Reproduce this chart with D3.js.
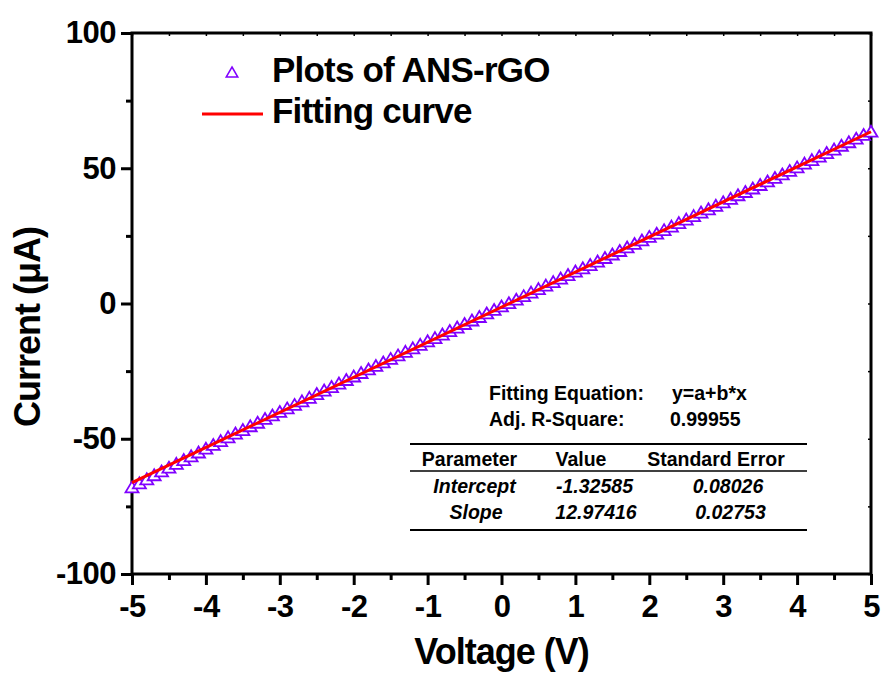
<!DOCTYPE html>
<html>
<head>
<meta charset="utf-8">
<script src="https://cdn.jsdelivr.net/npm/d3@7"></script>
<style>
  body { margin: 0; background: #fff; }
  svg { display: block; }
  svg text { font-family: "Liberation Sans", Arial, sans-serif; font-weight: bold; }
</style>
</head>
<body>
<script>
// voltage steps of the I-V sweep (V)
var voltage = [
  -5.0, -4.9, -4.8, -4.7, -4.6, -4.5, -4.4, -4.3, -4.2, -4.1,
  -4.0, -3.9, -3.8, -3.7, -3.6, -3.5, -3.4, -3.3, -3.2, -3.1,
  -3.0, -2.9, -2.8, -2.7, -2.6, -2.5, -2.4, -2.3, -2.2, -2.1,
  -2.0, -1.9, -1.8, -1.7, -1.6, -1.5, -1.4, -1.3, -1.2, -1.1,
  -1.0, -0.9, -0.8, -0.7, -0.6, -0.5, -0.4, -0.3, -0.2, -0.1,
  0.0, 0.1, 0.2, 0.3, 0.4, 0.5, 0.6, 0.7, 0.8, 0.9,
  1.0, 1.1, 1.2, 1.3, 1.4, 1.5, 1.6, 1.7, 1.8, 1.9,
  2.0, 2.1, 2.2, 2.3, 2.4, 2.5, 2.6, 2.7, 2.8, 2.9,
  3.0, 3.1, 3.2, 3.3, 3.4, 3.5, 3.6, 3.7, 3.8, 3.9,
  4.0, 4.1, 4.2, 4.3, 4.4, 4.5, 4.6, 4.7, 4.8, 4.9, 5.0
];
var current = [
  -67.8, -66.3, -64.8, -63.3, -61.9, -60.5, -59.1, -57.7, -56.3, -54.9,
  -53.5, -52.1, -50.7, -49.3, -47.9, -46.6, -45.2, -43.9, -42.5, -41.2,
  -39.9, -38.6, -37.3, -36.0, -34.7, -33.3, -32.0, -30.7, -29.4, -28.1,
  -26.8, -25.5, -24.2, -22.9, -21.6, -20.3, -19.0, -17.7, -16.4, -15.1,
  -13.8, -12.6, -11.3, -10.0, -8.7, -7.4, -6.1, -4.8, -3.5, -2.2,
  -0.9, 0.3, 1.6, 2.9, 4.2, 5.5, 6.8, 8.1, 9.4, 10.7,
  12.0, 13.2, 14.4, 15.7, 17.0, 18.3, 19.6, 20.9, 22.2, 23.5,
  24.8, 26.0, 27.3, 28.6, 29.9, 31.2, 32.5, 33.8, 35.0, 36.3,
  37.6, 38.9, 40.2, 41.4, 42.7, 44.0, 45.3, 46.6, 47.9, 49.2,
  50.5, 51.9, 53.2, 54.5, 55.8, 57.1, 58.5, 59.8, 61.1, 62.5, 63.7
];
// end points of the linear fitting curve
var fitVoltage = [-5, 5];
var fitCurrent = [-66.2, 63.5];

// tick values
var xMajor = [-5, -4, -3, -2, -1, 0, 1, 2, 3, 4, 5];
var xMinor = [-4.5, -3.5, -2.5, -1.5, -0.5, 0.5, 1.5, 2.5, 3.5, 4.5];
var yMajor = [-100, -50, 0, 50, 100];
var yMinor = [-75, -25, 25, 75];

// legend + fit table text
var legendLabels = ["Plots of ANS-rGO", "Fitting curve"];
var tableHeader = ["Parameter", "Value", "Standard Error"];
var tableRows = [
  ["Intercept", "-1.32585", "0.08026"],
  ["Slope", "12.97416", "0.02753"]
];

var W = 883, H = 673;
var margin = { top: 33, right: 12, bottom: 99, left: 132 };
var width = W - margin.left - margin.right;
var height = H - margin.top - margin.bottom;

var svg = d3.select("body").append("svg")
  .attr("width", W)
  .attr("height", H);

var g = svg.append("g")
  .attr("transform", "translate(" + margin.left + "," + margin.top + ")");

var x = d3.scaleLinear().domain([-5, 5]).range([0, width]);
var y = d3.scaleLinear().domain([-100, 100]).range([height, 0]);

var purple = "#8000ff";
var red = "#ff0000";

//axes, major + minor ticks
function styleAxis(sel) {
  sel.select(".domain").remove();
  sel.attr("font-family", null).attr("font-size", null);
  sel.selectAll(".tick line").attr("stroke", "#000").attr("stroke-width", 3);
  sel.selectAll(".tick text")
    .attr("fill", "#000")
    .style("font-size", "31px")
    .style("letter-spacing", "-0.5px");
}

g.append("g")
  .attr("transform", "translate(0," + height + ")")
  .call(d3.axisBottom(x).tickValues(xMajor).tickSize(11).tickPadding(10)
    .tickFormat(function (d) { return String(d); }))
  .call(styleAxis);
g.append("g")
  .attr("transform", "translate(0," + height + ")")
  .call(d3.axisBottom(x).tickValues(xMinor).tickSize(6).tickFormat(""))
  .call(styleAxis);

g.append("g")
  .call(d3.axisLeft(y).tickValues(yMajor).tickSize(11).tickPadding(5)
    .tickFormat(function (d) { return String(d); }))
  .call(styleAxis);
g.append("g")
  .call(d3.axisLeft(y).tickValues(yMinor).tickSize(6).tickFormat(""))
  .call(styleAxis);

// tiny inner ticks on top and right edges
g.append("g")
  .call(d3.axisTop(x).tickValues(xMajor.concat(xMinor)).tickSize(-3).tickFormat(""))
  .call(styleAxis)
  .selectAll(".tick line").attr("stroke-width", 1.5);
g.append("g")
  .attr("transform", "translate(" + width + ",0)")
  .call(d3.axisRight(y).tickValues(yMajor.concat(yMinor)).tickSize(-3).tickFormat(""))
  .call(styleAxis)
  .selectAll(".tick line").attr("stroke-width", 1.5);

// frame
g.append("rect")
  .attr("x", 0).attr("y", 0)
  .attr("width", width).attr("height", height)
  .attr("fill", "none")
  .attr("stroke", "#000")
  .attr("stroke-width", 3);

// triangle symbol, centred on its box
var tri = "M0,-5.5 L6.5,5.5 L-6.5,5.5 Z";

var points = voltage.map(function (v, i) { return { v: v, c: current[i] }; });

g.append("g")
  .selectAll("path")
  .data(points)
  .enter()
  .append("path")
  .attr("d", tri)
  .attr("transform", function (d) { return "translate(" + x(d.v) + "," + y(d.c) + ")"; })
  .attr("fill", "#fff")
  .attr("stroke", purple)
  .attr("stroke-width", 1.8);

var fitLine = d3.line()
  .x(function (d) { return x(d.v); })
  .y(function (d) { return y(d.c); });

g.append("path")
  .datum(fitVoltage.map(function (v, i) { return { v: v, c: fitCurrent[i] }; }))
  .attr("d", fitLine)
  .attr("fill", "none")
  .attr("stroke", red)
  .attr("stroke-width", 3);

// axis titles
svg.append("text")
  .attr("x", margin.left + width / 2)
  .attr("y", 664)
  .attr("text-anchor", "middle")
  .style("font-size", "36px")
  .style("letter-spacing", "-1px")
  .text("Voltage (V)");

svg.append("text")
  .attr("transform", "translate(40,327) rotate(-90)")
  .attr("text-anchor", "middle")
  .style("font-size", "36px")
  .style("letter-spacing", "-1px")
  .text("Current (\u03bcA)");

// legend
svg.append("path")
  .attr("d", "M0,-5 L5.8,5 L-5.8,5 Z")
  .attr("transform", "translate(232,72)")
  .attr("fill", "#fff")
  .attr("stroke", purple)
  .attr("stroke-width", 1.5);
svg.append("line")
  .attr("x1", 202).attr("x2", 263)
  .attr("y1", 114).attr("y2", 114)
  .attr("stroke", red)
  .attr("stroke-width", 3);
svg.selectAll("text.legend")
  .data(legendLabels)
  .enter()
  .append("text")
  .attr("class", "legend")
  .attr("x", 272)
  .attr("y", function (d, i) { return 82 + i * 41; })
  .style("font-size", "35px")
  .style("letter-spacing", "-0.8px")
  .text(function (d) { return d; });

// fit info block
var info = svg.append("g").style("font-size", "19.5px");
info.append("text").attr("x", 489).attr("y", 400).text("Fitting Equation:");
info.append("text").attr("x", 672).attr("y", 400).text("y=a+b*x");
info.append("text").attr("x", 489).attr("y", 426).text("Adj. R-Square:");
info.append("text").attr("x", 670).attr("y", 426).text("0.99955");

var ruleX = [410, 807];
[[444, 2], [471, 1.5], [530, 2]].forEach(function (r) {
  info.append("line")
    .attr("x1", ruleX[0]).attr("x2", ruleX[1])
    .attr("y1", r[0]).attr("y2", r[0])
    .attr("stroke", "#000")
    .attr("stroke-width", r[1]);
});

var headerX = [469.5, 581, 716];
var rowX = [[474.5, 594.5, 728], [476, 596, 730.5]];
var rowY = [493, 519];

info.selectAll("text.head")
  .data(tableHeader)
  .enter()
  .append("text")
  .attr("class", "head")
  .attr("x", function (d, i) { return headerX[i]; })
  .attr("y", 466)
  .attr("text-anchor", "middle")
  .text(function (d) { return d; });

tableRows.forEach(function (row, r) {
  info.selectAll("text.row" + r)
    .data(row)
    .enter()
    .append("text")
    .attr("class", "row" + r)
    .attr("x", function (d, i) { return rowX[r][i]; })
    .attr("y", rowY[r])
    .attr("text-anchor", "middle")
    .style("font-style", "italic")
    .text(function (d) { return d; });
});
</script>
</body>
</html>
